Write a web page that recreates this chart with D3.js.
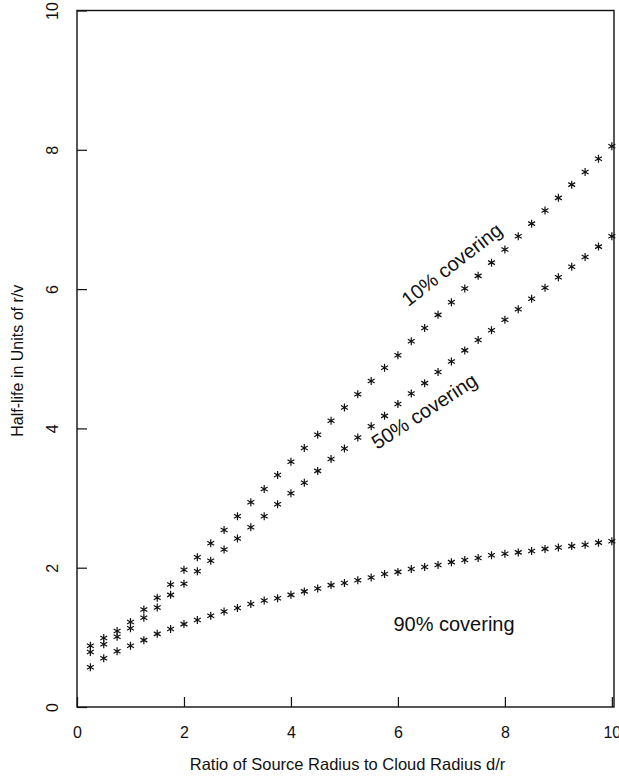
<!DOCTYPE html>
<html>
<head>
<meta charset="utf-8">
<script src="https://cdn.jsdelivr.net/npm/d3@7"></script>
<style>
  body { margin: 0; background: #fff; }
  text { font-family: "Liberation Sans", Arial, Helvetica, sans-serif; fill: #111; }
</style>
</head>
<body>
<svg id="chart" width="619" height="776"></svg>
<script>
// Ratio of source radius to cloud radius (d/r)
const ratio = [0.25, 0.5, 0.75, 1.0, 1.25, 1.5, 1.75, 2.0, 2.25, 2.5,
               2.75, 3.0, 3.25, 3.5, 3.75, 4.0, 4.25, 4.5, 4.75, 5.0,
               5.25, 5.5, 5.75, 6.0, 6.25, 6.5, 6.75, 7.0, 7.25, 7.5,
               7.75, 8.0, 8.25, 8.5, 8.75, 9.0, 9.25, 9.5, 9.75, 10.0];

// Half-life in units of r/v for each covering fraction
const cover10 = [0.88, 0.99, 1.09, 1.22, 1.40, 1.57, 1.76, 1.97, 2.15, 2.35,
                 2.54, 2.74, 2.94, 3.13, 3.33, 3.52, 3.72, 3.91, 4.11, 4.30,
                 4.49, 4.68, 4.87, 5.05, 5.25, 5.44, 5.63, 5.81, 6.01, 6.19,
                 6.38, 6.57, 6.76, 6.94, 7.13, 7.31, 7.50, 7.68, 7.87, 8.05];
const cover50 = [0.79, 0.90, 1.01, 1.13, 1.28, 1.43, 1.61, 1.77, 1.95, 2.10,
                 2.26, 2.42, 2.58, 2.74, 2.91, 3.07, 3.22, 3.39, 3.56, 3.71,
                 3.87, 4.03, 4.18, 4.35, 4.50, 4.65, 4.81, 4.96, 5.12, 5.27,
                 5.41, 5.56, 5.71, 5.86, 6.02, 6.17, 6.32, 6.46, 6.61, 6.76];
const cover90 = [0.57, 0.70, 0.80, 0.88, 0.96, 1.05, 1.12, 1.19, 1.25, 1.31,
                 1.37, 1.42, 1.48, 1.53, 1.56, 1.61, 1.66, 1.70, 1.75, 1.78,
                 1.82, 1.86, 1.91, 1.94, 1.98, 2.01, 2.04, 2.08, 2.11, 2.14,
                 2.18, 2.20, 2.22, 2.24, 2.27, 2.29, 2.31, 2.33, 2.36, 2.38];

const xTicks = [0, 2, 4, 6, 8, 10];
const yTicks = [0, 2, 4, 6, 8, 10];
const seriesNames = ["10% covering", "50% covering", "90% covering"];

const svg = d3.select("#chart");
const frame = { left: 77, right: 614, top: 10.5, bottom: 707 };

const x = d3.scaleLinear().domain([0, 10.04]).range([frame.left, frame.right]);
const y = d3.scaleLinear().domain([0, 10]).range([frame.bottom, frame.top]);

// Six-armed asterisk marker
const asterisk = {
  draw(ctx, size) {
    const r = Math.sqrt(size) / 2;
    const t = r / 2, u = t * Math.sqrt(3);
    ctx.moveTo(0, -r); ctx.lineTo(0, r);
    ctx.moveTo(-u, -t); ctx.lineTo(u, t);
    ctx.moveTo(-u, t); ctx.lineTo(u, -t);
  }
};
const marker = d3.symbol().type(asterisk).size(64)();

// Plot frame
svg.append("rect")
  .attr("x", frame.left).attr("y", frame.top)
  .attr("width", frame.right - frame.left)
  .attr("height", frame.bottom - frame.top)
  .attr("fill", "none").attr("stroke", "#111").attr("stroke-width", 1.4);

// Bottom axis: inward ticks
const gx = svg.append("g")
  .attr("transform", `translate(0,${frame.bottom})`)
  .call(d3.axisBottom(x).tickValues(xTicks).tickSize(-10).tickPadding(20).tickFormat(d3.format("d")));
gx.select(".domain").remove();
gx.selectAll(".tick line").attr("stroke", "#111").attr("stroke-width", 1.2);
gx.selectAll(".tick text").attr("font-size", 16).attr("fill", "#111")
  .style("font-family", "'Liberation Sans', Arial, sans-serif");

// Left axis: inward ticks, labels rotated
const gy = svg.append("g")
  .attr("transform", `translate(${frame.left},0)`)
  .call(d3.axisLeft(y).tickValues(yTicks).tickSize(-10).tickFormat(d3.format("d")));
gy.select(".domain").remove();
gy.selectAll(".tick line").attr("stroke", "#111").attr("stroke-width", 1.2);
gy.selectAll(".tick text")
  .attr("x", null).attr("dy", null)
  .attr("text-anchor", "middle")
  .attr("transform", "translate(-19.5,0) rotate(-90)")
  .attr("font-size", 16).attr("fill", "#111")
  .style("font-family", "'Liberation Sans', Arial, sans-serif");

// Axis titles
svg.append("text")
  .attr("x", (frame.left + frame.right) / 2 + 2).attr("y", 770)
  .attr("text-anchor", "middle").attr("font-size", 16.5)
  .text("Ratio of Source Radius to Cloud Radius d/r");
svg.append("text")
  .attr("transform", `translate(23,${(frame.top + frame.bottom) / 2 + 2}) rotate(-90)`)
  .attr("text-anchor", "middle").attr("font-size", 16)
  .text("Half-life in Units of r/v");

// Series markers
[cover10, cover50, cover90].forEach((vals, i) => {
  svg.append("g").attr("class", "series s" + i)
    .selectAll("path")
    .data(ratio.map((r, j) => [r, vals[j]]))
    .join("path")
    .attr("d", marker)
    .attr("transform", d => `translate(${x(d[0])},${y(d[1])})`)
    .attr("fill", "none").attr("stroke", "#111").attr("stroke-width", 1.2);
});

// Series labels
const labelSpecs = [
  { name: seriesNames[0], cx: 456, cy: 270, angle: -38 },
  { name: seriesNames[1], cx: 428, cy: 417, angle: -33 },
  { name: seriesNames[2], cx: 454, cy: 631, angle: 0 }
];
svg.append("g").selectAll("text")
  .data(labelSpecs)
  .join("text")
  .attr("transform", d => `translate(${d.cx},${d.cy}) rotate(${d.angle})`)
  .attr("text-anchor", "middle")
  .attr("font-size", 20)
  .text(d => d.name);
</script>
</body>
</html>
